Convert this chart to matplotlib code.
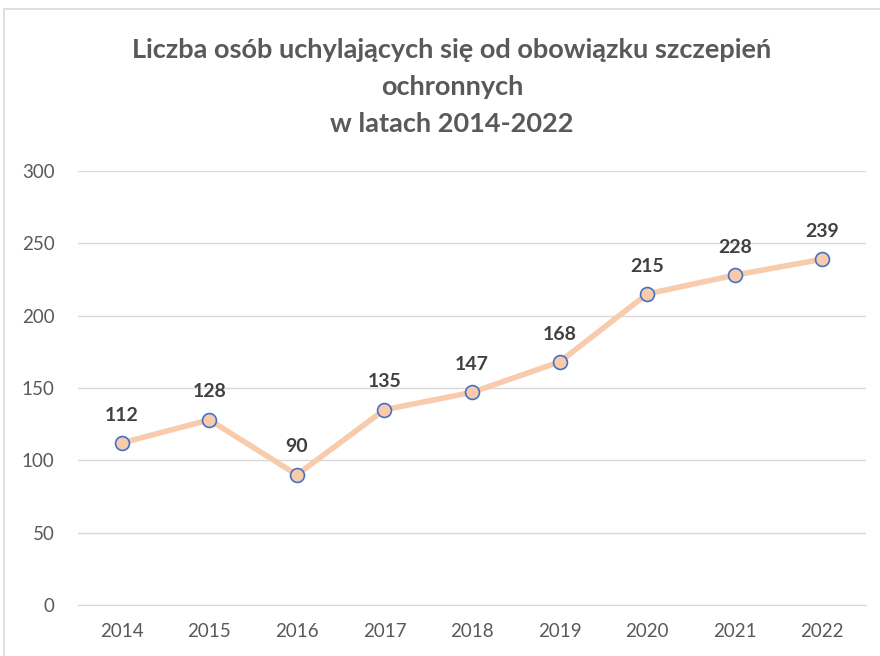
import matplotlib
matplotlib.use("Agg")
import matplotlib.pyplot as plt
from matplotlib.patches import Rectangle

years = ["2014", "2015", "2016", "2017", "2018", "2019", "2020", "2021", "2022"]
values = [112, 128, 90, 135, 147, 168, 215, 228, 239]
yticks = [0, 50, 100, 150, 200, 250, 300]
title = "Liczba osób uchylających się od obowiązku szczepień\nochronnych\nw latach 2014-2022"

plt.rcParams["font.family"] = ["Lato", "DejaVu Sans"]

fig = plt.figure(figsize=(8.8, 6.56), dpi=100)
ax = fig.add_axes([78 / 880, 1 - 605 / 656, (866 - 78) / 880, (605 - 171) / 656])

x = list(range(len(years)))
ax.plot(x, values, color="#F8CBAD", linewidth=4, solid_capstyle="round", zorder=2)
ax.plot(x, values, linestyle="none", marker="o", markersize=10,
        markerfacecolor="#F8CBAD", markeredgecolor="#4472C4", markeredgewidth=1.2, zorder=3)
for xi, v in zip(x, values):
    ax.annotate(str(v), (xi, v), xytext=(0, 14), textcoords="offset points",
                ha="center", va="bottom", fontsize=14, fontweight="bold", color="#404040")

ax.set_xlim(-0.5, len(years) - 0.5)
ax.set_ylim(0, 300)
ax.set_yticks(yticks)
ax.set_xticks(x)
ax.set_xticklabels(years)
ax.grid(axis="y", color="#D9D9D9", linewidth=1)
ax.set_axisbelow(True)
for s in ax.spines.values():
    s.set_visible(False)
ax.spines["bottom"].set_visible(True)
ax.spines["bottom"].set_color("#D9D9D9")
ax.tick_params(length=0, labelsize=13.5, labelcolor="#595959")
ax.tick_params(axis="x", pad=13)
ax.tick_params(axis="y", pad=17)

fig.text(452 / 880, 1 - 38 / 656, title, ha="center", va="top", fontsize=19.5,
         fontweight="bold", color="#595959", linespacing=1.65)

fig.patches.append(Rectangle((4 / 880, -0.05), 1.1, 1 - 9 / 656 + 0.05,
                             transform=fig.transFigure, fill=False,
                             edgecolor="#D9D9D9", linewidth=1.2))

fig.savefig("out.png", dpi=100)
